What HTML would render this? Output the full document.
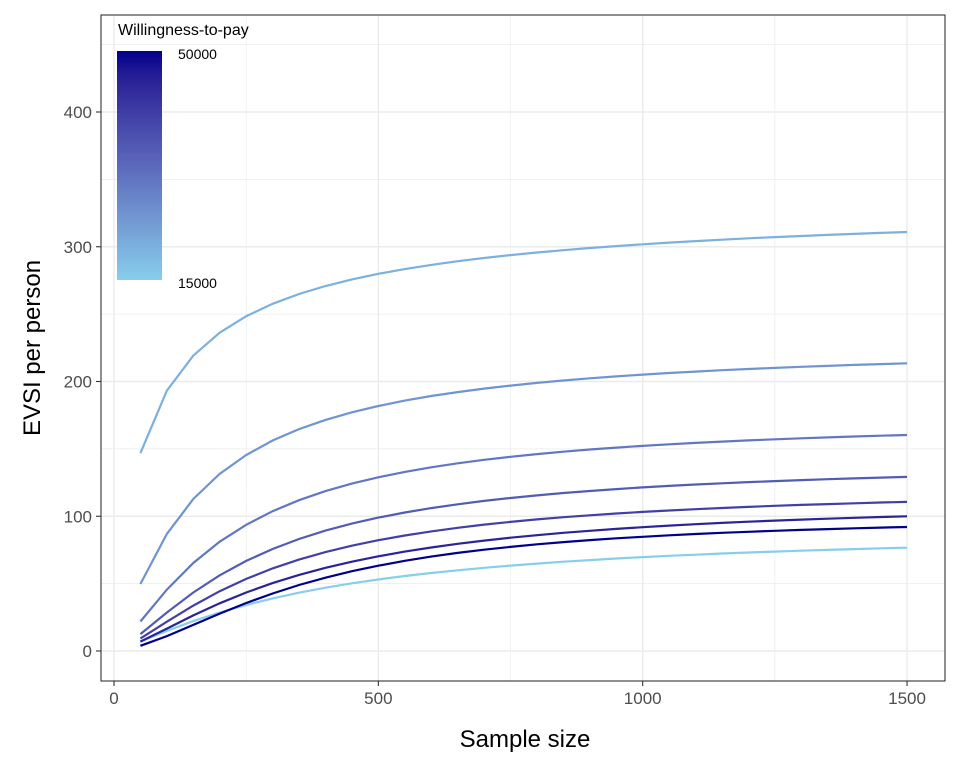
<!DOCTYPE html>
<html><head><style>body{margin:0;background:#fff}svg{display:block}text{font-family:"Liberation Sans",sans-serif}</style></head>
<body>
<svg id="s" width="960" height="768" xmlns="http://www.w3.org/2000/svg">
<defs><linearGradient id="g" x1="0" y1="1" x2="0" y2="0" id2="g"></linearGradient></defs>
<rect x="101" y="15" width="844" height="666" fill="#fff"/>
<g id="grid"></g>
<g id="lines"></g>
<rect x="101" y="15" width="844" height="666" fill="none" stroke="#333" stroke-width="1.1"/>
<rect x="117" y="51" width="45" height="229" fill="url(#g)"/>
<text x="118" y="35" font-size="16">Willingness-to-pay</text>
<text x="178" y="59" font-size="14">50000</text>
<text x="178" y="288" font-size="14">15000</text>
<g font-size="17" fill="#4d4d4d" text-anchor="end" id="yl"></g>
<g font-size="17" fill="#4d4d4d" text-anchor="middle" id="xl"></g>
<text x="525" y="747" font-size="24" text-anchor="middle">Sample size</text>
<text transform="translate(40,348) rotate(-90)" font-size="24" text-anchor="middle">EVSI per person</text>
</svg>
<script>
var NS="http://www.w3.org/2000/svg";
function X(n){return 114+n*0.5287}function Y(v){return 651-v*1.3475}
function el(p,t,a,txt){var e=document.createElementNS(NS,t);for(var k in a)e.setAttribute(k,a[k]);if(txt!=null)e.textContent=txt;(typeof p=="string"?document.getElementById(p):p).appendChild(e);return e;}
function lin(c){c/=255;return c<=0.04045?c/12.92:Math.pow((c+0.055)/1.055,2.4)}
function gam(c){c=c<=0.0031308?12.92*c:1.055*Math.pow(c,1/2.4)-0.055;return Math.max(0,Math.min(255,Math.round(c*255)))}
function toLab(r,g,b){r=lin(r);g=lin(g);b=lin(b);
 var x=(0.4124*r+0.3576*g+0.1805*b)/0.95047,y=0.2126*r+0.7152*g+0.0722*b,z=(0.0193*r+0.1192*g+0.9505*b)/1.08883;
 function f(t){return t>0.008856?Math.cbrt(t):7.787*t+16/116}
 return [116*f(y)-16,500*(f(x)-f(y)),200*(f(y)-f(z))];}
function fromLab(L,a,b){var fy=(L+16)/116,fx=fy+a/500,fz=fy-b/200;
 function fi(t){return t*t*t>0.008856?t*t*t:(t-16/116)/7.787}
 var x=fi(fx)*0.95047,y=fi(fy),z=fi(fz)*1.08883;
 var r=3.2406*x-1.5372*y-0.4986*z,g=-0.9689*x+1.8758*y+0.0415*z,bb=0.0557*x-0.2040*y+1.0570*z;
 return "rgb("+gam(r)+","+gam(g)+","+gam(bb)+")";}
var L0=toLab(135,206,235),L1=toLab(0,0,139);
function col(t){return fromLab(L0[0]+(L1[0]-L0[0])*t,L0[1]+(L1[1]-L0[1])*t,L0[2]+(L1[2]-L0[2])*t)}
var gr=document.getElementById("g");
for(var i=0;i<=10;i++)el(gr,"stop",{offset:i/10,"stop-color":col(i/10)});
for(var v=50;v<=450;v+=100)el("grid","line",{x1:101,x2:945,y1:Y(v),y2:Y(v),stroke:"#ebebeb","stroke-width":0.7});
for(var n=250;n<=1750;n+=500)if(X(n)<945)el("grid","line",{x1:X(n),x2:X(n),y1:15,y2:681,stroke:"#ebebeb","stroke-width":0.7});
for(var v=0;v<=400;v+=100){el("grid","line",{x1:101,x2:945,y1:Y(v),y2:Y(v),stroke:"#ebebeb","stroke-width":1.4});
 el("grid","line",{x1:96,x2:101,y1:Y(v),y2:Y(v),stroke:"#333","stroke-width":1.1});el("yl","text",{x:92,y:Y(v)+6},v);}
for(var n=0;n<=1500;n+=500){el("grid","line",{x1:X(n),x2:X(n),y1:15,y2:681,stroke:"#ebebeb","stroke-width":1.4});
 el("grid","line",{x1:X(n),x2:X(n),y1:681,y2:686,stroke:"#333","stroke-width":1.1});el("xl","text",{x:X(n),y:704},n);}
var data=[
 [[50,5],[100,17],[500,52],[1000,71],[1500,76]],
 [[50,148],[100,192],[500,281],[1000,302],[1500,310]],
 [[50,49],[100,88],[500,181],[1000,205],[1500,214]],
 [[50,19],[100,48],[500,128],[1000,152],[1500,161]],
 [[50,8],[100,32],[500,98],[1000,121],[1500,130]],
 [[50,7],[100,23],[500,82],[1000,103],[1500,111]],
 [[50,5],[100,18],[500,70],[1000,92],[1500,100]],
 [[50,2.5],[100,12],[500,63],[1000,85],[1500,92]]];
data.forEach(function(pts,i){
 var best=null;
 for(var h=0.6;h<=2.6;h+=0.02)for(var lb=1;lb<=8;lb+=0.02){var b=Math.exp(lb);
  var f=pts.map(function(p){var q=Math.pow(p[0],h);return q/(q+Math.pow(b,h));});
  var num=0,den=0;pts.forEach(function(p,j){num+=p[1]*f[j];den+=f[j]*f[j];});var a=num/den;
  var e=0;pts.forEach(function(p,j){e+=Math.pow(p[1]-a*f[j],2);});
  if(!best||e<best.e)best={e:e,a:a,b:b,h:h};}
 var c=col(i/7);
 var d="";for(var n=50;n<=1500;n+=50){var q=Math.pow(n,best.h);var v=best.a*q/(q+Math.pow(best.b,best.h));d+=(n==50?"M":"L")+X(n).toFixed(1)+","+Y(v).toFixed(1);}
 el("lines","path",{d:d,fill:"none",stroke:c,"stroke-width":2.2});
});
</script>
</body></html>
